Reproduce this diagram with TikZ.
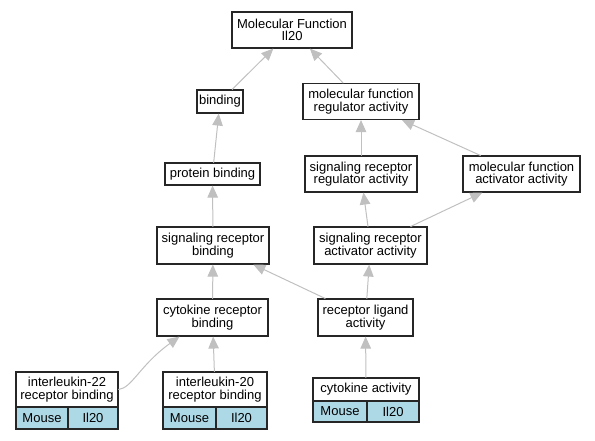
\documentclass[tikz,border=0pt]{standalone}
\usepackage{fontspec}
\setmainfont{Liberation Sans}
\usetikzlibrary{arrows.meta}

\begin{document}
\begin{tikzpicture}
		[x=1pt,y=-1pt,line cap=round,
		%Styles
		term/.style={draw=black!85,line width=1.1pt,fill=white,inner sep=0pt,align=center,
			font=\fontsize{13}{12.5}\selectfont},
		cell/.style={term,fill=genefill},
		isa/.style={color=edgegray,line width=1pt,-{Triangle[length=12pt,width=10.5pt]}}
		]
		
		%Colors
		\definecolor{genefill}{HTML}{ADD8E6}	%gene rows
		\definecolor{edgegray}{HTML}{C0C0C0}	%is-a edges
		
		\useasboundingbox (0,0) rectangle (595,440);
		
		%The graphic
		
		\node[term,minimum width=120pt,minimum height=36pt] (mf) at (292,30) {Molecular Function\\Il20};
		
		\node[term,minimum width=46pt,minimum height=23pt] (bind) at (220,101.5) {binding};
		\node[term,minimum width=116pt,minimum height=36pt] (mfreg) at (361,101.5) {molecular function\\regulator activity};
		
		\node[term,minimum width=95pt,minimum height=22pt] (pb) at (212.5,174) {protein binding};
		\node[term,minimum width=112pt,minimum height=36pt] (srreg) at (361,174) {signaling receptor\\regulator activity};
		\node[term,minimum width=117pt,minimum height=36pt] (mfact) at (521.5,174) {molecular function\\activator activity};
		
		\node[term,minimum width=112pt,minimum height=37pt] (srb) at (213,245.5) {signaling receptor\\binding};
		\node[term,minimum width=113pt,minimum height=37pt] (sract) at (370.5,245.5) {signaling receptor\\activator activity};
		
		\node[term,minimum width=111pt,minimum height=37pt] (crb) at (212.5,317.5) {cytokine receptor\\binding};
		\node[term,minimum width=95pt,minimum height=37pt] (rla) at (365.5,317.5) {receptor ligand\\activity};
		
		\node[term,minimum width=102pt,minimum height=35pt] (il22) at (67,389.5) {interleukin-22\\receptor binding};
		\node[cell,minimum width=52pt,minimum height=22pt] (il22sp) at (42,418) {Mouse};
		\node[cell,minimum width=50pt,minimum height=22pt] (il22gn) at (93,418) {Il20};
		
		\node[term,minimum width=104pt,minimum height=35pt] (il20) at (215,389.5) {interleukin-20\\receptor binding};
		\node[cell,minimum width=53pt,minimum height=22pt] (il20sp) at (189.5,418) {Mouse};
		\node[cell,minimum width=51pt,minimum height=22pt] (il20gn) at (241.5,418) {Il20};
		
		\node[term,minimum width=106pt,minimum height=23pt] (cyt) at (366,389.5) {cytokine activity};
		\node[cell,minimum width=54pt,minimum height=21pt] (cytsp) at (340,411.5) {Mouse};
		\node[cell,minimum width=52pt,minimum height=21pt] (cytgn) at (393,411.5) {Il20};
		
		\path[isa]
			(bind)	edge	(mf)
			(mfreg)	edge	(mf)
			(pb)	edge	(bind)
			(srreg)	edge	(mfreg)
			(mfact)	edge	(mfreg)
			(srb)	edge	(pb)
			(sract)	edge	(srreg)
			(sract)	edge	(mfact)
			(crb)	edge	(srb)
			(rla)	edge	(srb)
			(rla)	edge	(sract)
			(il20)	edge	(crb)
			(cyt)	edge	(rla);
		
		\draw[isa] (il22.east) .. controls (132,388) and (140,365) .. (crb.210);
	\end{tikzpicture}
\end{document}
